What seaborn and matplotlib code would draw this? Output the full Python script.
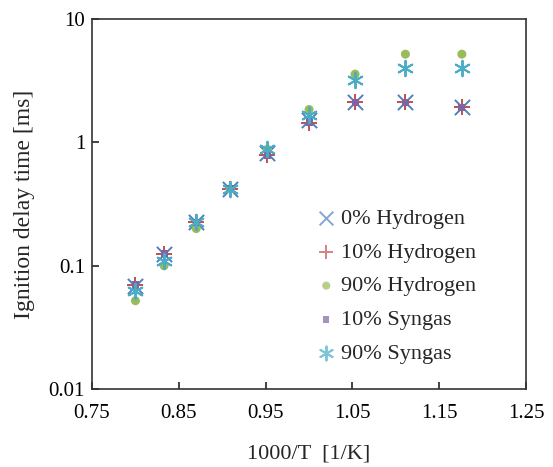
import numpy as np
import pandas as pd
import matplotlib
matplotlib.use("Agg")
import matplotlib.pyplot as plt
import seaborn as sns
from matplotlib.ticker import FixedLocator, FuncFormatter

# 1000/T for T = 1250 ... 850 K
inv_T = [0.800, 0.833, 0.870, 0.909, 0.952, 1.000, 1.053, 1.111, 1.176]

h2_0 = [0.068, 0.125, 0.225, 0.42, 0.82, 1.52, 2.12, 2.12, 1.93]
h2_10 = [0.070, 0.125, 0.225, 0.42, 0.79, 1.45, 2.12, 2.12, 1.93]
h2_90 = [0.052, 0.100, 0.200, 0.42, 0.88, 1.85, 3.58, 5.20, 5.20]
syn_10 = [0.070, 0.125, 0.225, 0.42, 0.79, 1.45, 2.12, 2.12, 1.93]
syn_90 = [0.062, 0.110, 0.225, 0.42, 0.88, 1.68, 3.20, 4.05, 4.05]

series = ["0% Hydrogen", "10% Hydrogen", "90% Hydrogen", "10% Syngas", "90% Syngas"]
values = [h2_0, h2_10, h2_90, syn_10, syn_90]
colors = ["#4F81BD", "#C0504D", "#9BBB59", "#8064A2", "#4BACC6"]
markers = ["x", "+", "o", "s", (6, 2, 0)]
sizes = [120, 120, 42, 25, 125]

frames = []
for name, vals in zip(series, values):
    frames.append(pd.DataFrame({"x": inv_T, "y": vals, "series": name}))
df = pd.concat(frames, ignore_index=True)

sns.set_style("ticks")
plt.rcParams["font.family"] = ["Liberation Serif", "DejaVu Serif"]

fig = plt.figure(figsize=(5.53, 4.67), dpi=100)
ax = fig.add_axes([0.1664, 0.167, 0.785, 0.792])

for name, c, m, s in zip(series, colors, markers, sizes):
    sub = df[df["series"] == name]
    filled = m in ("o", "s")
    sns.scatterplot(data=sub, x="x", y="y", ax=ax, color=c, marker=m, s=s,
                    linewidth=0 if filled else 1.4, edgecolor=c if not filled else "none",
                    label=name, zorder=3)

ax.set_yscale("log")
ax.set_xlim(0.75, 1.25)
ax.set_ylim(0.01, 10)
ax.xaxis.set_major_locator(FixedLocator([0.75, 0.85, 0.95, 1.05, 1.15, 1.25]))
ax.xaxis.set_major_formatter(FuncFormatter(lambda v, p: f"{v:.2f}"))
ax.yaxis.set_major_locator(FixedLocator([0.01, 0.1, 1, 10]))
ax.yaxis.set_major_formatter(FuncFormatter(lambda v, p: f"{v:g}"))
ax.yaxis.set_minor_locator(FixedLocator([]))
ax.tick_params(axis="both", which="major", direction="in", length=5, width=1.2,
               labelsize=15, colors="#222222", labelcolor="black")
ax.tick_params(axis="x", pad=11)
ax.tick_params(axis="y", pad=5)
for sp in ax.spines.values():
    sp.set_linewidth(1.2)
    sp.set_color("#333333")

ax.set_xlabel("1000/T  [1/K]", fontsize=16, labelpad=15)
ax.set_ylabel("Ignition delay time [ms]", fontsize=17, labelpad=10)

leg = ax.legend(loc="center left", bbox_to_anchor=(0.514, 0.278), frameon=False,
                fontsize=16, scatterpoints=1, handlelength=1.0, handletextpad=0.15,
                labelspacing=0.6, borderaxespad=0, borderpad=0, markerscale=0.9)
for h in leg.legend_handles:
    h.set_alpha(0.7)

fig.savefig("out.png", dpi=100)
